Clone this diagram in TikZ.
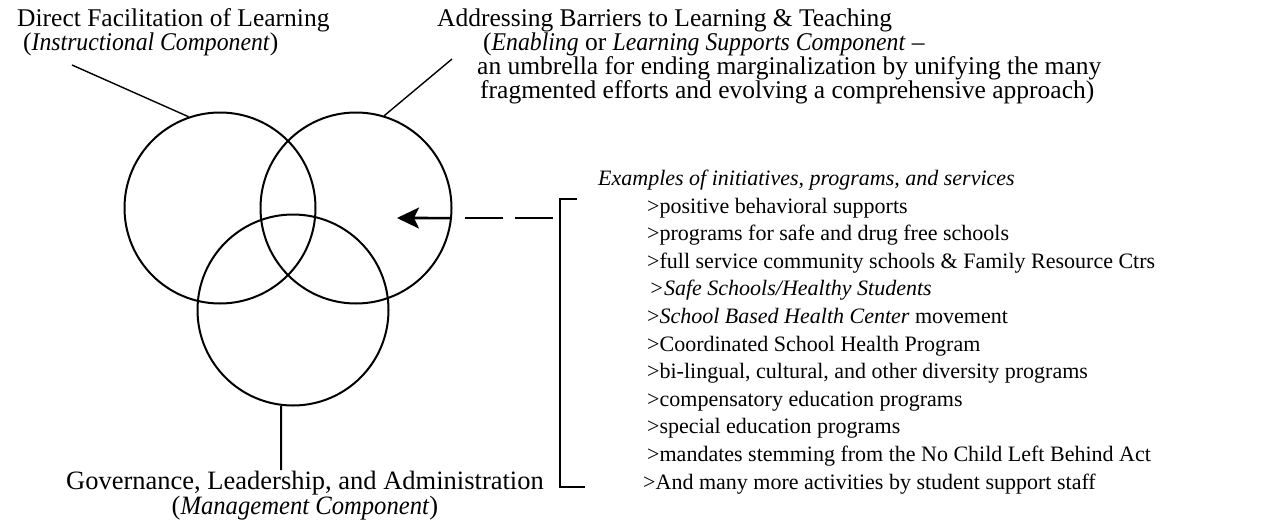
\documentclass[tikz,border=0pt]{standalone}
\usepackage{fontspec}
\setmainfont{Liberation Serif}
\newfontfamily\lblfont{Liberation Serif}[ItalicFeatures={FakeStretch=0.93}]
\usetikzlibrary{arrows.meta}
\tikzset{
  venn/.style={circle, draw, line width=2pt, minimum size=191pt, inner sep=0pt},
  leader/.style={line width=1.4pt},
  lbl/.style={anchor=base west, inner sep=0pt, font=\lblfont\fontsize{25.5}{28}\selectfont},
  lst/.style={anchor=base west, inner sep=0pt, font=\fontsize{22}{26}\selectfont},
  arr/.style={line width=2.6pt, -{Stealth[length=22pt,width=21pt,inset=5pt]}},
  dashline/.style={line width=2.6pt, dash pattern=on 38pt off 12pt},
  brk/.style={line width=2.6pt}
}
\begin{document}
\begin{tikzpicture}[x=1pt,y=-1pt]
\useasboundingbox (0,0) rectangle (1276,522);
% circles
\node[venn] (A) at (220,208) {};
\node[venn] (B) at (356,208) {};
\node[venn] (C) at (293,310) {};
% top-left label
\node[lbl] (l1) at (17,26) {Direct Facilitation of Learning};
\node[lbl] (l2) at (23,50) {(\textit{Instructional Component})};
% top-right label
\node[lbl] (r1) at (437,26) {Addressing Barriers to Learning \& Teaching};
\node[lbl] (r2) at (483,50) {(\textit{Enabling} or \textit{Learning Supports Component} –};
\node[lbl] (r3) at (477,74) {an umbrella for ending marginalization by unifying the many};
\node[lbl] (r4) at (480,98) {fragmented efforts and evolving a comprehensive approach)};
% bottom label
\node[lbl, font=\lblfont\fontsize{26.5}{28}\selectfont] (g1) at (66,489) {Governance, Leadership, and Administration};
\node[lbl, anchor=base, font=\lblfont\fontsize{26.5}{28}\selectfont] (g2) at (305,514) {(\textit{Management Component})};
% list
\node[lst] (ex) at (598,185) {\textit{Examples of initiatives, programs, and services}};
\node[lst] (i1) at (647,213) {>positive behavioral supports};
\node[lst] (i2) at (647,240.6) {>programs for safe and drug free schools};
\node[lst] (i3) at (647,268.2) {>full service community schools \& Family Resource Ctrs};
\node[lst] (i4) at (649,295.8) {\textit{>Safe Schools/Healthy Students}};
\node[lst] (i5) at (647,323.4) {>\textit{School Based Health Center} movement};
\node[lst] (i6) at (647,351) {>Coordinated School Health Program};
\node[lst] (i7) at (647,378.6) {>bi-lingual, cultural, and other diversity programs};
\node[lst] (i8) at (647,406.2) {>compensatory education programs};
\node[lst] (i9) at (647,433.8) {>special education programs};
\node[lst] (i10) at (647,461.4) {>mandates stemming from the No Child Left Behind Act};
\node[lst] (i11) at (643,489) {>And many more activities by student support staff};
% leaders
\coordinate (la) at (72,65);
\coordinate (lb) at (452,59);
\coordinate (lc) at (281,470);
\draw[leader] (la) -- (A.109);
\draw[leader] (lb) -- (B.73.5);
\draw[leader, line width=2pt] (C.-97) -- (lc);
% arrow and dashes
\coordinate (tip) at (397,218);
\coordinate (ds) at (465,218);
\coordinate (de) at (553,218);
\draw[arr] (B.-6) -- (tip);
\draw[dashline] (ds) -- (de);
% bracket
\coordinate (bt) at (577,199);
\coordinate (bb) at (585,487);
\draw[brk] (bt) -- (560,199) -- (560,487) -- (bb);
\end{tikzpicture}
\end{document}
